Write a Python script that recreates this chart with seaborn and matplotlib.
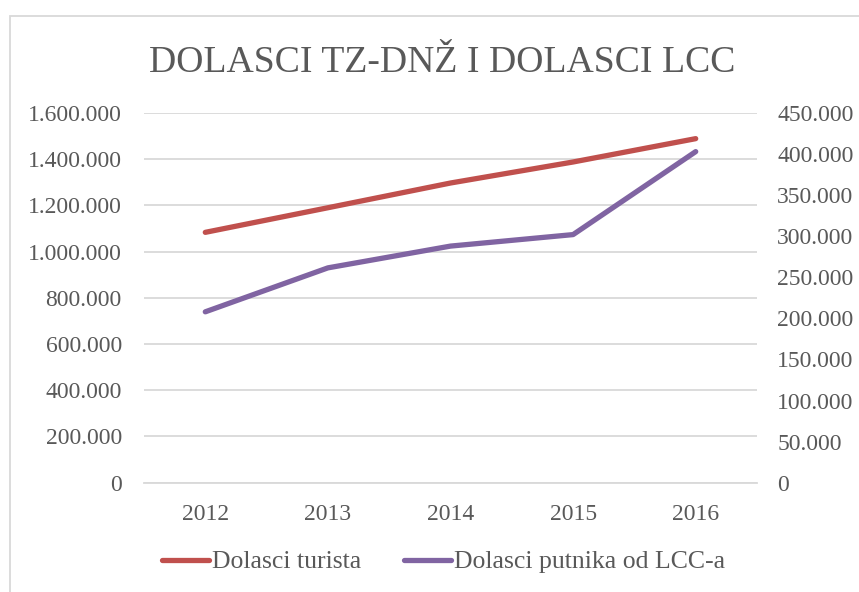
import matplotlib
matplotlib.use("Agg")
import matplotlib.pyplot as plt
import matplotlib.ticker as mticker
from matplotlib.patches import Rectangle
from matplotlib.lines import Line2D
import seaborn as sns
import pandas as pd

# Data
years = ["2012", "2013", "2014", "2015", "2016"]
tourist_arrivals = [1083500, 1190000, 1297000, 1388000, 1489000]
lcc_passengers = [208000, 261500, 288000, 302000, 403000]

left_ticks = [0, 200000, 400000, 600000, 800000, 1000000, 1200000, 1400000, 1600000]
right_ticks = [0, 50000, 100000, 150000, 200000, 250000, 300000, 350000, 400000, 450000]

title = "DOLASCI TZ-DNŽ I DOLASCI LCC"
label_tourists = "Dolasci turista"
label_lcc = "Dolasci putnika od LCC-a"

RED = "#C0504D"
PURPLE = "#8064A2"
GRID = "#D9D9D9"
TEXT = "#595959"

sns.set_theme(style="white")
plt.rcParams["font.family"] = ["Liberation Serif", "DejaVu Serif"]

df = pd.DataFrame({"year": years, "tourists": tourist_arrivals, "lcc": lcc_passengers})
df["pos"] = range(len(years))

W, H = 859, 592
fig = plt.figure(figsize=(W / 100, H / 100), dpi=100)

# Chart frame
fig.patches.append(Rectangle((10 / W, -0.1), 1.2, 1.1 - 16 / H,
                             transform=fig.transFigure, fill=False,
                             edgecolor=GRID, linewidth=1.3))

left, right = 144 / W, 757 / W
bottom, top = (H - 482.7) / H, (H - 113) / H
ax = fig.add_axes([left, bottom, right - left, top - bottom])
ax2 = ax.twinx()

sns.lineplot(data=df, x="pos", y="tourists", ax=ax, color=RED, linewidth=3.8,
             solid_capstyle="round", legend=False)
sns.lineplot(data=df, x="pos", y="lcc", ax=ax2, color=PURPLE, linewidth=3.8,
             solid_capstyle="round", legend=False)

ax.set_xlim(-0.5, len(years) - 0.5)
ax.set_ylim(0, 1600000)
ax2.set_ylim(0, 450000)
ax.set_yticks(left_ticks)
ax2.set_yticks(right_ticks)
ax.set_xticks(range(len(years)))
ax.set_xticklabels(years)

fmt = mticker.FuncFormatter(lambda v, p: f"{v:,.0f}".replace(",", "."))
ax.yaxis.set_major_formatter(fmt)
ax2.yaxis.set_major_formatter(fmt)

ax.grid(axis="y", color=GRID, linewidth=1.3)
ax.set_axisbelow(True)
ax.set_xlabel("")
ax.set_ylabel("")
ax2.set_ylabel("")
for a in (ax, ax2):
    for s in a.spines.values():
        s.set_visible(False)
ax.spines["bottom"].set_visible(True)
ax.spines["bottom"].set_color(GRID)
ax.spines["bottom"].set_linewidth(1.3)

ax.tick_params(axis="y", length=0, pad=16, labelsize=17, labelcolor=TEXT)
ax2.tick_params(axis="y", length=0, pad=14.5, labelsize=17, labelcolor=TEXT)
ax.tick_params(axis="x", length=0, pad=15, labelsize=17, labelcolor=TEXT)

fig.text((left + right) / 2 - 0.010, 1 - 63 / H, title, ha="center", va="center",
         fontsize=27.2, color=TEXT)

handles = [Line2D([0], [0], color=RED, linewidth=3.8, solid_capstyle="round"),
           Line2D([0], [0], color=PURPLE, linewidth=3.8, solid_capstyle="round")]
fig.legend(handles, [label_tourists, label_lcc], loc="center",
           bbox_to_anchor=(0.5 + 0.016, 1 - 562 / H), ncol=2, frameon=False,
           fontsize=18.5, labelcolor=TEXT, handlelength=1.85, handletextpad=0.1,
           columnspacing=1.65)

fig.savefig("out.png", dpi=100, facecolor="white")
